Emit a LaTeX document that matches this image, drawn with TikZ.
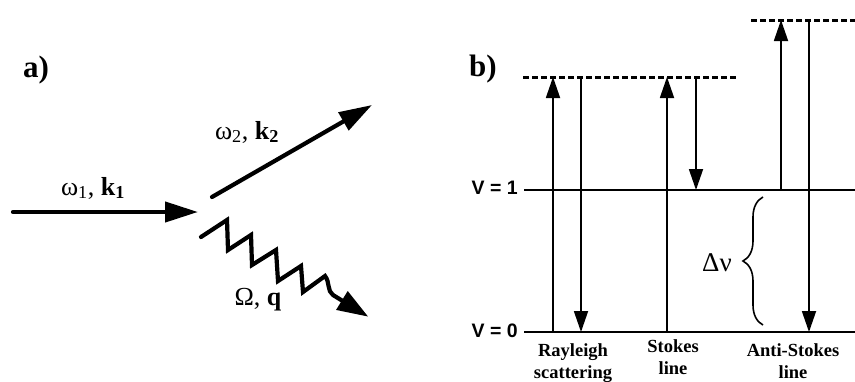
\documentclass[tikz,border=0pt]{standalone}
\usepackage{fontspec}
\setmainfont{Liberation Serif}
\newfontfamily\arialfont{Liberation Sans}
\usetikzlibrary{arrows.meta,decorations.pathreplacing}
\begin{document}
\begin{tikzpicture}[x=1pt,y=-1pt,
  thickarrow/.style={line width=4.2pt, line cap=round, -{Triangle[length=33pt,width=20pt]}},
  zigarrow/.style={line width=4.2pt, line cap=round, -{Triangle[length=31pt,width=21pt]}},
  thinline/.style={line width=1.8pt},
  thinarrow/.style={line width=1.8pt, -{Triangle[length=21pt,width=14pt]}},
  dashedlevel/.style={line width=3pt, dash pattern=on 6pt off 3pt},
  partlabel/.style={font=\bfseries\fontsize{31}{31}\selectfont, inner sep=0pt},
  biglabel/.style={font=\fontsize{26}{26}\selectfont, inner sep=0pt},
  levellabel/.style={font=\arialfont\bfseries\fontsize{19.5}{19.5}\selectfont, inner sep=0pt, anchor=east},
  captionlabel/.style={font=\bfseries\fontsize{18.5}{22}\selectfont, align=center, inner sep=0pt, anchor=north}
]
\useasboundingbox (0,0) rectangle (855,381);

% ---------- a) ----------
\node[partlabel] (la) at (36,70) {a)};

\coordinate (a1s) at (13,212);
\coordinate (a1e) at (198,212);
\draw[thickarrow] (a1s) -- (a1e);
\node[biglabel] (w1) at (93,188) {ω\textsubscript{1}, \textbf{k\textsubscript{1}}};

\coordinate (a2s) at (212,197);
\coordinate (a2e) at (372,105);
\draw[thickarrow] (a2s) -- (a2e);
\node[biglabel] (w2) at (247,132) {ω\textsubscript{2}, \textbf{k\textsubscript{2}}};

\coordinate (z0) at (201,237);
\coordinate (z1) at (227,220);
\coordinate (z2) at (228,250);
\coordinate (z3) at (251,235);
\coordinate (z4) at (252,265);
\coordinate (z5) at (276,250);
\coordinate (z6) at (278,281);
\coordinate (z7) at (301,266);
\coordinate (z8) at (303,292);
\coordinate (z9) at (325,276);
\coordinate (zc) at (333,295);
\coordinate (zt) at (368.3,316.7);
\draw[zigarrow, line join=miter] (z0) -- (z1) -- (z2) -- (z3) -- (z4) -- (z5) -- (z6) -- (z7) -- (z8) -- (z9)
  .. controls (330,282) and (327,291) .. (zc) -- (zt);
\node[biglabel] (om) at (258,300) {Ω, \textbf{q}};

% ---------- b) ----------
\node[partlabel] (lb) at (483,69) {b)};

\coordinate (v1l) at (524,190);
\coordinate (v1r) at (855,190);
\coordinate (v0l) at (524,332);
\coordinate (v0r) at (855,332);
\draw[thinline] (v1l) -- (v1r);
\draw[thinline] (v0l) -- (v0r);
\node[levellabel] (lv1) at (518,188) {V = 1};
\node[levellabel] (lv0) at (518,331) {V = 0};

\coordinate (d1l) at (523,77);
\coordinate (d1r) at (737,77);
\coordinate (d2l) at (751,20);
\coordinate (d2r) at (855,20);
\draw[dashedlevel] (d1l) -- (d1r);
\draw[dashedlevel] (d2l) -- (d2r);

% Rayleigh
\coordinate (ru0) at (553,332);
\coordinate (ru1) at (553,77);
\coordinate (rd1) at (581,77);
\coordinate (rd0) at (581,332);
\draw[thinarrow] (ru0) -- (ru1);
\draw[thinarrow] (rd1) -- (rd0);
% Stokes
\coordinate (su0) at (667,332);
\coordinate (su1) at (667,77);
\coordinate (sd1) at (696,77);
\coordinate (sd0) at (696,190);
\draw[thinarrow] (su0) -- (su1);
\draw[thinarrow] (sd1) -- (sd0);
% Anti-Stokes
\coordinate (au0) at (781,190);
\coordinate (au1) at (781,20);
\coordinate (ad1) at (809,20);
\coordinate (ad0) at (809,332);
\draw[thinarrow] (au0) -- (au1);
\draw[thinarrow] (ad1) -- (ad0);

% brace
\coordinate (bb) at (763,325);
\coordinate (bt) at (763,197);
\draw[line width=1.6pt, decorate, decoration={brace, amplitude=20pt}] (bb) -- (bt);
\node[biglabel, font=\fontsize{27}{27}\selectfont] (dn) at (717,263) {Δν};

% captions
\node[captionlabel] (c1) at (573,343) {Rayleigh\\scattering};
\node[captionlabel] (c2) at (673,339) {Stokes\\line};
\node[captionlabel] (c3) at (793,343) {Anti-Stokes\\line};
\end{tikzpicture}
\end{document}
